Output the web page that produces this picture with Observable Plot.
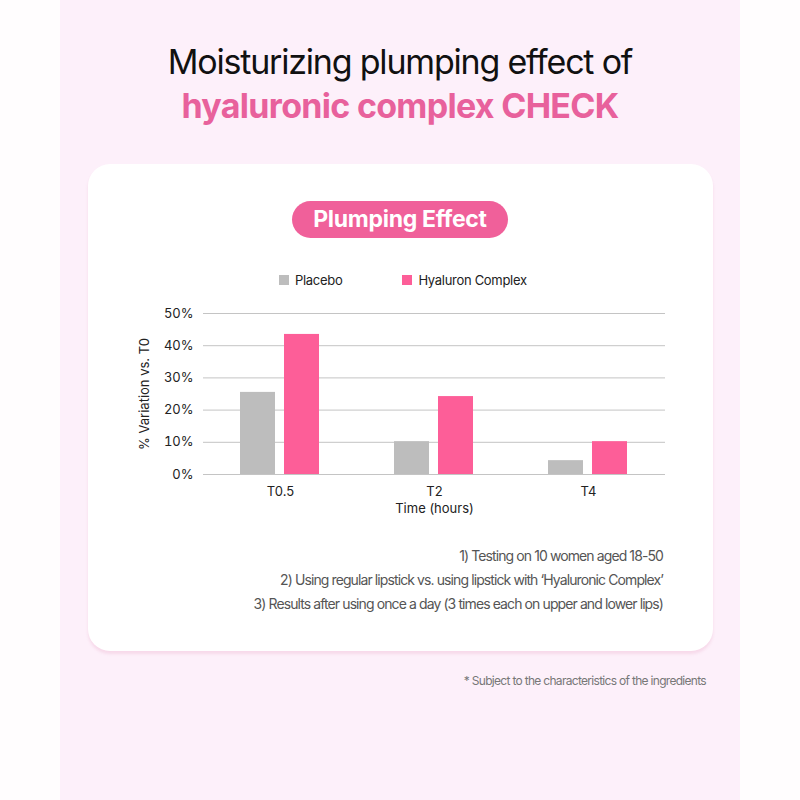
<!DOCTYPE html>
<html>
<head>
<meta charset="utf-8">
<script src="https://cdn.jsdelivr.net/npm/d3@7"></script>
<script src="https://cdn.jsdelivr.net/npm/@observablehq/plot@0.6"></script>
<style>
  html, body { margin: 0; padding: 0; background: #fffdfe; }
  body { width: 800px; height: 800px; position: relative; overflow: hidden; font-family: Inter, "Noto Sans", sans-serif; }
  #panel { position: absolute; left: 60px; top: 0; width: 680px; height: 800px; background: #fdf0fa; }
  .abs { position: absolute; }
  #t1 { left: 0; width: 800px; top: 42px; text-align: center; font-size: 34px; font-weight: 400; letter-spacing: -1.2px; color: #111; line-height: 40px; }
  #t2 { left: 0; width: 800px; top: 86px; text-align: center; font-size: 34px; font-weight: 700; letter-spacing: -0.7px; color: #e8619c; line-height: 40px; }
  #card { left: 88px; top: 164px; width: 625px; height: 487px; background: #fff; border-radius: 22px; box-shadow: 0 3px 3px rgba(240,190,215,0.45); }
  #pill { left: 292px; top: 201px; width: 216px; height: 37px; border-radius: 19px; background: #f0609a; color: #fff; font-weight: 700; font-size: 23px; letter-spacing: -0.3px; text-align: center; line-height: 37px; }
  #legend { left: 279px; top: 272px; font-size: 13px; letter-spacing: -0.3px; color: #222; display: flex; align-items: center; }
  #legend .sw { width: 10px; height: 10px; display: inline-block; margin-right: 6px; }
  #legend .item { display: flex; align-items: center; }
  #notes { right: 137px; top: 544px; text-align: right; font-size: 14px; color: #555; letter-spacing: -0.9px; line-height: 24px; }
  #foot { right: 94px; top: 673px; text-align: right; font-size: 12px; color: #777; letter-spacing: -0.7px; }
  #chart { left: 100px; top: 295px; }
</style>
</head>
<body>
<div id="panel"></div>
<div id="t1" class="abs">Moisturizing plumping effect of</div>
<div id="t2" class="abs">hyaluronic complex CHECK</div>
<div id="card" class="abs"></div>
<div id="pill" class="abs">Plumping Effect</div>
<div id="legend" class="abs"></div>
<div id="chart" class="abs"></div>
<div id="notes" class="abs"></div>
<div id="foot" class="abs">* Subject to the characteristics of the ingredients</div>
<script>
const timePoints = ["T0.5", "T2", "T4"];
const seriesNames = ["Placebo", "Hyaluron Complex"];
const placeboValues = [25.5, 10.2, 4.3];
const hyaluronValues = [43.5, 24.2, 10.2];
const seriesColors = ["#bdbdbd", "#fd5e98"];
const yTicks = [0, 10, 20, 30, 40, 50];
const noteLines = [
  "1) Testing on 10 women aged 18-50",
  "2) Using regular lipstick vs. using lipstick with \u2018Hyaluronic Complex\u2019",
  "3) Results after using once a day (3 times each on upper and lower lips)"
];

const data = [];
timePoints.forEach((t, i) => {
  data.push({time: t, series: seriesNames[0], value: placeboValues[i]});
  data.push({time: t, series: seriesNames[1], value: hyaluronValues[i]});
});

// legend
const legend = document.getElementById("legend");
seriesNames.forEach((s, i) => {
  const it = document.createElement("div");
  it.className = "item";
  it.style.marginRight = i === 0 ? "60px" : "0";
  it.innerHTML = `<span class="sw" style="background:${seriesColors[i]}"></span><span>${s}</span>`;
  legend.appendChild(it);
});

document.getElementById("notes").innerHTML = noteLines.map(l => `<div>${l}</div>`).join("");

const chart = Plot.plot({
  width: 600,
  height: 224,
  marginLeft: 103,
  marginRight: 35,
  marginTop: 18,
  marginBottom: 45,
  style: {fontFamily: "Inter, sans-serif", fontSize: "13px", color: "#222", background: "transparent"},
  fx: {domain: timePoints, padding: 0, label: null},
  x: {domain: seriesNames, axis: null, paddingInner: 0.2, paddingOuter: 0.84},
  y: {domain: [0, 50], label: null},
  color: {domain: seriesNames, range: seriesColors},
  marks: [
    Plot.gridY(yTicks, {stroke: "#c4c4c4", strokeOpacity: 1, strokeWidth: 1}),
    Plot.axisY(yTicks, {tickSize: 0, tickPadding: 10, tickFormat: d => d + "%", label: "% Variation vs. T0", labelAnchor: "center", labelOffset: 64, labelArrow: "none", fontSize: 13}),
    Plot.axisFx({anchor: "bottom", tickSize: 0, tickPadding: 12, label: "Time (hours)", labelAnchor: "center", labelOffset: 38, labelArrow: "none", fontSize: 13}),
    Plot.barY(data, {fx: "time", x: "series", y: "value", fill: "series"})
  ]
});
document.getElementById("chart").appendChild(chart);
</script>
</body>
</html>
